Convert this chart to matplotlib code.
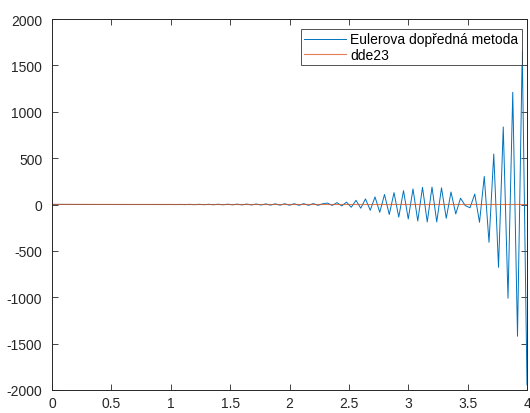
import matplotlib.pyplot as plt
import numpy as np

plt.rcParams['font.family'] = ['Liberation Sans', 'DejaVu Sans']

# Euler forward method, step 0.04 on [0, 4]
euler_t = np.linspace(0, 4, 101)
euler_y = [
    1.0, 1.0, 0.9, 0.8, 0.7, 0.6, 0.5, 0.4, 0.3, 0.2,
    0.1, 0.0, -0.1, -0.1, -0.2, -0.2, -0.2, -0.1, 0.0, 0.1,
    0.2, 0.3, 0.3, 0.2, 0.1,
    0.5, -0.8, 1.0, -1.2, 1.5, -1.8, 2.0, -2.2, 2.5, -2.8,
    3.0, -3.2, 3.5, -3.8, 4.0, -4.3, 4.6, -5.0, 5.4, -5.8,
    6.2, -6.5, 7.0, -7.4, 7.8, -8.0, 8.5, -8.8, 9.0, -9.0,
    9.5, -9.0, 8.0,
    15, -10, 20, -15, 25, -30, 45, -40, 60, -62,
    82, -84, 108, -108, 128, -136, 149, -156, 168, -178,
    185, -188, 188, -188, 180, -149, 135, -102, 68, -12,
    -35, 113, -192, 302, -408, 544, -677, 836, -1011, 1210,
    -1421, 1658, -1945,
]

# dde23 solution (near zero on this scale)
dde_t = [0, 0.25, 0.5, 0.75, 1.0, 1.25, 1.5, 1.75, 2.0, 2.25, 2.5, 2.75, 3.0, 3.25, 3.5, 3.75, 4.0]
dde_y = [1.0, 0.8, 0.5, 0.2, 0.0, -0.2, -0.1, 0.0, 0.1, 0.1, 0.0, -0.1, 0.0, 0.0, 0.0, 0.0, 0.0]

xticks = [0, 0.5, 1, 1.5, 2, 2.5, 3, 3.5, 4]
yticks = [-2000, -1500, -1000, -500, 0, 500, 1000, 1500, 2000]

axis_col = '#262626'

fig = plt.figure(figsize=(5.30, 4.14), dpi=100)
ax = fig.add_axes([52 / 530, 23 / 414, 475 / 530, 371 / 414])

ax.plot(euler_t, euler_y, color='#0072BD', linewidth=0.7, label='Eulerova dopředná metoda')
ax.plot(dde_t, dde_y, color='#D95319', linewidth=0.8, alpha=0.75, label='dde23')

ax.set_xlim(0, 4)
ax.set_ylim(-2000, 2000)
ax.set_xticks(xticks)
ax.set_xticklabels([f'{v:g}' for v in xticks])
ax.set_yticks(yticks)
ax.set_yticklabels([f'{v:g}' for v in yticks])

ax.tick_params(direction='in', top=True, right=True, length=4, width=0.6,
               labelsize=10, colors=axis_col, pad=4)
ax.tick_params(axis='y', pad=7)
for sp in ax.spines.values():
    sp.set_color(axis_col)
    sp.set_linewidth(0.7)

leg = ax.legend(loc='upper right', bbox_to_anchor=(0.989, 0.973), borderaxespad=0,
                fontsize=10, frameon=True, fancybox=False, handlelength=3.0,
                handletextpad=0.3, borderpad=0.25, labelspacing=0.1)
leg.get_frame().set_edgecolor(axis_col)
leg.get_frame().set_linewidth(0.7)
for t in leg.get_texts():
    t.set_color('black')

fig.savefig('out.png', dpi=100, facecolor='white')
